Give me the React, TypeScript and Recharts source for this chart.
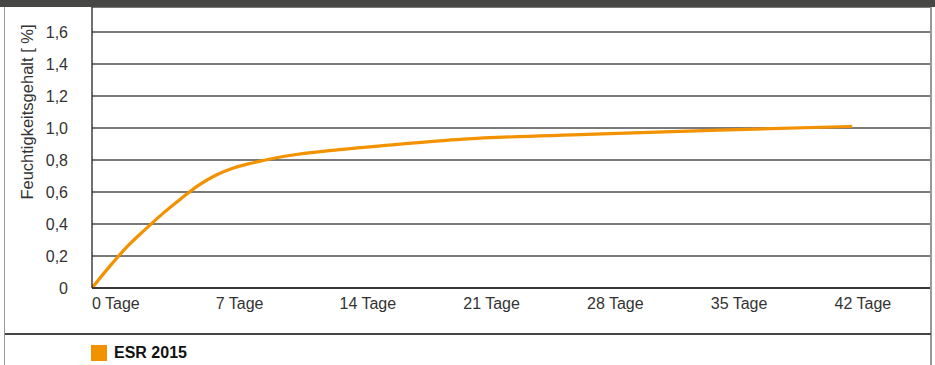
import React from "react";
import {
  LineChart,
  Line,
  XAxis,
  YAxis,
  CartesianGrid,
} from "recharts";

// Drying curve: days after installation vs. moisture content in %
const days = [0, 1, 2, 3, 4, 5, 6, 7, 8, 9, 11, 14, 17, 21, 28, 35, 43];
const esr2015 = [
  0, 0.135, 0.26, 0.365, 0.465, 0.555, 0.64, 0.705, 0.75, 0.78, 0.825, 0.865,
  0.895, 0.93, 0.96, 0.985, 1.01,
];

const dayTicks = [0, 7, 14, 21, 28, 35, 42];
const moistureTicks = [0, 0.2, 0.4, 0.6, 0.8, 1.0, 1.2, 1.4, 1.6];

const seriesName = "ESR 2015";
const yTitle = "Feuchtigkeitsgehalt [ %]";

const data = days.map((d, i) => ({ day: d, value: esr2015[i] }));

const ORANGE = "#f39200";
const TEXT = "#333";
const FONT = "'Liberation Sans', Arial, Helvetica, sans-serif";

const formatMoisture = (v: number) =>
  v === 0 ? "0" : v.toFixed(1).replace(".", ",");

const DayTick = (props: any) => {
  const { x, y, payload } = props;
  return (
    <text
      x={x}
      y={y}
      dy="0.71em"
      textAnchor="start"
      fill={TEXT}
      fontSize={16}
      fontFamily={FONT}
    >
      {payload.value} Tage
    </text>
  );
};

export default function App() {
  return (
    <div
      style={{
        position: "absolute",
        left: 0,
        top: 0,
        width: 935,
        height: 365,
        background: "#fff",
        overflow: "hidden",
        fontFamily: FONT,
      }}
    >
      {/* header bar */}
      <div
        style={{
          position: "absolute",
          left: 0,
          top: 0,
          width: 935,
          height: 7,
          background: "#474745",
        }}
      />
      {/* frame */}
      <div
        style={{
          position: "absolute",
          left: 4,
          top: 7,
          width: 1,
          height: 358,
          background: "#999",
        }}
      />
      <div
        style={{
          position: "absolute",
          left: 930,
          top: 7,
          width: 2,
          height: 358,
          background: "#999",
        }}
      />
      <div
        style={{
          position: "absolute",
          left: 5,
          top: 333,
          width: 926,
          height: 2,
          background: "#454545",
        }}
      />

      <LineChart
        width={935}
        height={365}
        data={data}
        margin={{ top: 7, right: 5, bottom: 47, left: 0 }}
        style={{ position: "absolute", left: 0, top: 0 }}
      >
        <CartesianGrid
          vertical={false}
          stroke="#4d4d4d"
          strokeWidth={1.3}
        />
        <XAxis
          dataKey="day"
          type="number"
          domain={[0, 47.4]}
          ticks={dayTicks}
          allowDataOverflow
          height={30}
          tickLine={false}
          tickSize={0}
          tickMargin={10}
          axisLine={{ stroke: "#222", strokeWidth: 1.3 }}
          tick={<DayTick />}
        />
        <YAxis
          type="number"
          domain={[0, 1.75625]}
          ticks={moistureTicks}
          allowDataOverflow
          width={92}
          tickLine={false}
          tickSize={0}
          tickMargin={24}
          axisLine={{ stroke: "#222", strokeWidth: 1.3 }}
          tickFormatter={formatMoisture}
          tick={{ fill: TEXT, fontSize: 16, fontFamily: FONT }}
        />
        <Line
          type="monotone"
          dataKey="value"
          stroke={ORANGE}
          strokeWidth={3.2}
          dot={false}
          isAnimationActive={false}
        />
      </LineChart>

      {/* y axis title */}
      <div
        style={{
          position: "absolute",
          left: 27,
          top: 112,
          transform: "translate(-50%, -50%) rotate(-90deg)",
          whiteSpace: "nowrap",
          fontSize: 16.5,
          color: TEXT,
        }}
      >
        {yTitle}
      </div>

      {/* legend */}
      <div
        style={{
          position: "absolute",
          left: 91,
          top: 344,
          display: "flex",
          alignItems: "center",
          gap: 7,
        }}
      >
        <span
          style={{
            display: "inline-block",
            width: 16,
            height: 16,
            background: ORANGE,
          }}
        />
        <span style={{ fontSize: 16, fontWeight: "bold", color: "#111" }}>
          {seriesName}
        </span>
      </div>
    </div>
  );
}
